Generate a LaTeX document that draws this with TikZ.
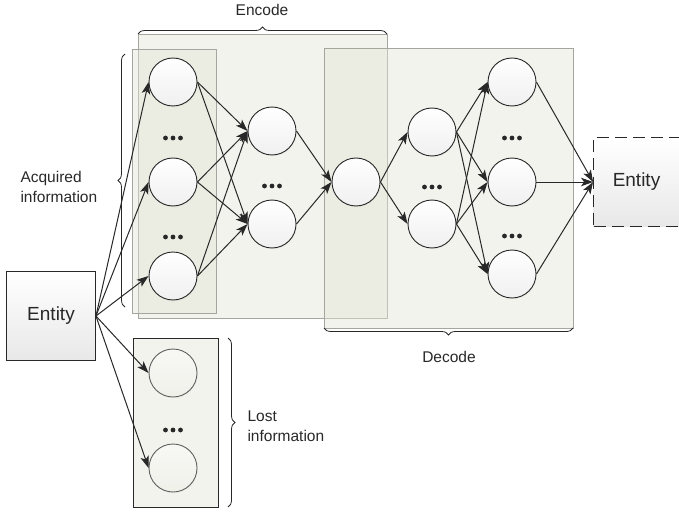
\documentclass[tikz,border=0pt]{standalone}
\usepackage{fontspec}
\setmainfont{Liberation Sans}
\usepackage{tikz}
\usetikzlibrary{arrows.meta,positioning,decorations.pathreplacing,shadows}
\definecolor{panelfill}{RGB}{226,229,214}
\definecolor{panelline}{RGB}{165,166,160}
\definecolor{inkgray}{RGB}{40,40,40}
\tikzstyle{panel} = [draw=panelline, line width=0.6pt, fill=panelfill, fill opacity=0.45]
\tikzstyle{neuron} = [circle, minimum size=48pt, inner sep=0pt, draw=inkgray, line width=0.9pt, top color=white, bottom color=gray!12, circular drop shadow={opacity=0.12, shadow xshift=1pt, shadow yshift=-1.5pt, shadow scale=1}]
\tikzstyle{lostNode} = [neuron, draw=gray!75!black, top color=panelfill!25, bottom color=panelfill!55]
\tikzstyle{entNode} = [rectangle, minimum width=89pt, minimum height=89pt, draw=inkgray, line width=0.9pt, top color=white, bottom color=gray!18, text=inkgray, font=\fontsize{19}{22}\selectfont]
\tikzstyle{entNodeD} = [entNode, dash pattern=on 12pt off 6pt]
\tikzstyle{arrow} = [line width=1pt, ->, >={Stealth[length=12pt,width=8.5pt,inset=3pt]}, draw=inkgray]
\tikzstyle{brc} = [decorate, decoration={brace, amplitude=7pt}, draw=inkgray, line width=0.8pt]
\tikzstyle{lbl} = [font=\fontsize{15.5}{20}\selectfont, text=inkgray, align=left]
\newcommand{\dotrow}[1]{\fill[inkgray] (#1) ++(-7.5,0) circle (2.4pt) ++(7.5,0) circle (2.4pt) ++(7.5,0) circle (2.4pt);}

\begin{document}
\begin{tikzpicture}[x=1pt, y=-1pt]
    \useasboundingbox (0,0) rectangle (679,513);

    % shaded panels
    \draw [panel] (138,34) rectangle (387,318);
    \draw [panel] (132,49) rectangle (216,313);
    \draw [panel] (324,48) rectangle (573,328);
    \draw [panel, draw=inkgray, line width=0.9pt] (133,338) rectangle (218,507);

    % nodes
    \node (entL) [entNode] at (51,316) {Entity};
    \node (a1) [neuron] at (173,82) {};
    \node (a2) [neuron, below of=a1, node distance=100pt] {};
    \node (a3) [neuron, below of=a2, node distance=94pt] {};
    \node (b1) [neuron] at (272,131) {};
    \node (b2) [neuron, below of=b1, node distance=93pt] {};
    \node (c) [neuron] at (356,182) {};
    \node (d1) [neuron] at (432,132) {};
    \node (d2) [neuron, below of=d1, node distance=92pt] {};
    \node (e1) [neuron] at (512,82) {};
    \node (e2) [neuron, below of=e1, node distance=100pt] {};
    \node (e3) [neuron, below of=e2, node distance=92pt] {};
    \node (entR) [entNodeD, right of=e2, node distance=126pt] {\hspace*{-3pt}Entity};
    \node (l1) [lostNode] at (173,373) {};
    \node (l2) [lostNode, below of=l1, node distance=95pt] {};

    \dotrow{173,138}
    \dotrow{173,237}
    \dotrow{272,186}
    \dotrow{432,187}
    \dotrow{512,138}
    \dotrow{512,236}
    \dotrow{173,430}

    % connections
    \foreach \t in {a1,a2,a3,l1,l2}
        \draw [arrow] (entL.east) -- (\t.west);
    \foreach \s in {a1,a2,a3}
        \foreach \t in {b1,b2}
            \draw [arrow] (\s.east) -- (\t.west);
    \foreach \s in {b1,b2}
        \draw [arrow] (\s.east) -- (c.west);
    \foreach \t in {d1,d2}
        \draw [arrow] (c.east) -- (\t.west);
    \foreach \s in {d1,d2}
        \foreach \t in {e1,e2,e3}
            \draw [arrow] (\s.east) -- (\t.west);
    \foreach \s in {e1,e2,e3}
        \draw [arrow] (\s.east) -- (entR.west);

    % braces and labels
    \draw [brc] (138,34) -- (387,34);
    \draw [brc] (573,328) -- (324,328);
    \draw [brc] (125,307) -- (125,54);
    \draw [brc] (228,338) -- (228,507);
    \node (enc) [lbl] at (262,10) {Encode};
    \node (dec) [lbl] at (449,357) {Decode};
    \node (acq) [lbl, anchor=west] at (17,187) {Acquired\\information};
    \node (lost) [lbl, anchor=west] at (244,426) {Lost\\information};
\end{tikzpicture}
\end{document}
